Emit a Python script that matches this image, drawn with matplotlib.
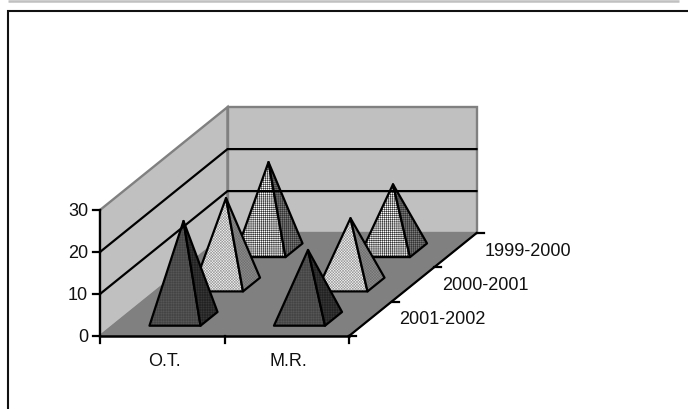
import matplotlib
matplotlib.use("Agg")
import matplotlib.pyplot as plt
from matplotlib.patches import Polygon

plt.rcParams["font.family"] = ["Liberation Sans", "DejaVu Sans"]
plt.rcParams["hatch.linewidth"] = 0.4

categories = ["O.T.", "M.R."]
seasons = ["2001-2002", "2000-2001", "1999-2000"]
values_2001 = [23.3, 16.4]
values_2000 = [20.6, 15.8]
values_1999 = [21.0, 15.7]
z_ticks = [0, 10, 20, 30]

series = [values_2001, values_2000, values_1999]
# face colour, hatch, hatch colour: front face then side face
styles = [
    (("#5c5c5c", "++++++++++", "#444444"), ("#3c3c3c", "++++++++++", "#222222")),
    (("#f4f4f4", "xxxxxxxxxxxx", "#999999"), ("#8c8c8c", "xxxxxxxxxxxx", "#707070")),
    (("#ffffff", "++++++++", "#333333"), ("#7c7c7c", "++++++++", "#333333")),
]


def proj(x, d, z=0):
    # oblique projection, pixels of the 688x409 picture
    return 100 + x * 124.5 + d * 42.5, 336 - d * 34.3 - z * 4.2


fig = plt.figure(figsize=(6.88, 4.09), dpi=100)
ax = fig.add_axes([0, 0, 1, 1])
ax.set_xlim(0, 688)
ax.set_ylim(409, 0)
ax.axis("off")

# frame of the page
ax.plot([8, 679], [1, 1], color="#c0c0c0", lw=1.8, solid_capstyle="butt")
ax.plot([8, 8, 688], [409, 11, 11], color="#111111", lw=1.5, solid_joinstyle="miter")

n_x, n_d, top = len(categories), len(seasons), z_ticks[-1]

# walls and floor
ax.add_patch(Polygon([proj(0, 0), proj(0, n_d), proj(0, n_d, top), proj(0, 0, top)],
                     fc="#c0c0c0", ec="#808080", lw=1.7))
ax.add_patch(Polygon([proj(0, n_d), proj(n_x, n_d), proj(n_x, n_d, top), proj(0, n_d, top)],
                     fc="#c0c0c0", ec="#808080", lw=1.7))
ax.add_patch(Polygon([proj(0, 0), proj(n_x, 0), proj(n_x, n_d), proj(0, n_d)],
                     fc="#808080", ec="#808080", lw=1))

# gridlines
for z in z_ticks[1:-1]:
    pts = [proj(0, 0, z), proj(0, n_d, z), proj(n_x, n_d, z)]
    ax.plot(*zip(*pts), color="black", lw=1.6, solid_joinstyle="miter")

# pyramids, back row first
half_x, half_d = 0.205, 0.2
for i in range(n_d - 1, -1, -1):
    for j in range(n_x):
        cx, cd = j + 0.5, i + 0.5
        apex = proj(cx, cd, series[i][j])
        fl = proj(cx - half_x, cd - half_d)
        fr = proj(cx + half_x, cd - half_d)
        br = proj(cx + half_x, cd + half_d)
        for face, (fc, hatch, hc) in zip(([fl, fr, apex], [fr, br, apex]), styles[i]):
            ax.add_patch(Polygon(face, fc=fc, ec=hc, hatch=hatch, lw=0))
            ax.add_patch(Polygon(face, fill=False, ec="black", lw=1.6, joinstyle="round"))

# axes
ax.plot(*zip(proj(0, 0), proj(0, 0, top)), color="black", lw=1.6)
ax.plot(*zip(proj(0, 0), proj(n_x, 0)), color="black", lw=1.8)
ax.plot(*zip(proj(n_x, 0), proj(n_x, n_d)), color="black", lw=1.6)

for z in z_ticks:
    px, py = proj(0, 0, z)
    ax.plot([px - 7, px], [py, py], color="black", lw=1.6)
    ax.text(px - 12, py + 1, str(z), ha="right", va="center", fontsize=13, color="#111111")

for j in range(n_x + 1):
    px, py = proj(j, 0)
    ax.plot([px, px], [py, py + 7], color="black", lw=1.6)

for j, name in enumerate(categories):
    px, py = proj(j + 0.5, 0)
    ax.text(px + 2, py + 26, name, ha="center", va="center", fontsize=13, color="#111111")

for i in range(n_d + 1):
    px, py = proj(n_x, i)
    ax.plot([px, px + 7], [py, py], color="black", lw=1.6)

for i, name in enumerate(seasons):
    px, py = proj(n_x, i + 0.5)
    ax.text(px + 29, py + 1, name, ha="left", va="center", fontsize=13, color="#111111")

fig.savefig("out.png", dpi=100)
